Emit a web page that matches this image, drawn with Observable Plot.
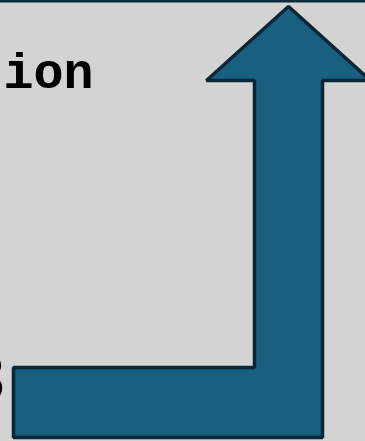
<!DOCTYPE html>
<html>
<head>
<meta charset="utf-8">
<script src="https://cdn.jsdelivr.net/npm/d3@7"></script>
<script src="https://cdn.jsdelivr.net/npm/@observablehq/plot@0.6"></script>
<style>
  html, body { margin: 0; padding: 0; background: #d3d3d3; overflow: hidden; }
  svg { overflow: hidden; }
</style>
</head>
<body>
<div id="chart"></div>
<script>
// Arrow outline vertices (diagram units = pixels of the panel)
const arrowX = [13, 254, 254, 206, 288, 370, 322, 322, 13];
const arrowY = [367, 367, 80, 80, 6, 80, 80, 437, 437];
// Text labels
const labelText = ["tion", "8"];
const labelX = [93, 6];
const labelY = [87, 399];
const labelSize = [50, 62];
const labelWeight = ["bold", "normal"];
const labelFont = ["'Liberation Mono', 'Courier New', monospace", "'DejaVu Sans', sans-serif"];

const arrow = arrowX.map((x, i) => ({x, y: arrowY[i]}));
const labels = labelText.map((t, i) => ({t, x: labelX[i], y: labelY[i], s: labelSize[i], w: labelWeight[i], f: labelFont[i]}));

const plot = Plot.plot({
  width: 365,
  height: 441,
  margin: 0,
  x: {domain: [0, 365], range: [0, 365], axis: null},
  y: {domain: [0, 441], range: [0, 441], axis: null},
  style: {background: "#d3d3d3", overflow: "hidden"},
  marks: [
    Plot.ruleY([0.5], {stroke: "#0f2f3f", strokeWidth: 3}),
    Plot.line(arrow, {x: "x", y: "y", curve: "linear-closed", fill: "#185f80", stroke: "#0b2636", strokeWidth: 3.5, strokeLinejoin: "miter"}),
    Plot.text([labels[0]], {x: "x", y: "y", text: "t", textAnchor: "end", lineAnchor: "bottom", fontSize: labels[0].s, fontWeight: labels[0].w, fontFamily: labels[0].f, fill: "#000"}),
    Plot.text([labels[1]], {x: "x", y: "y", text: "t", textAnchor: "end", lineAnchor: "bottom", fontSize: labels[1].s, fontWeight: labels[1].w, fontFamily: labels[1].f, fill: "#000"})
  ]
});
document.getElementById("chart").appendChild(plot);
</script>
</body>
</html>
